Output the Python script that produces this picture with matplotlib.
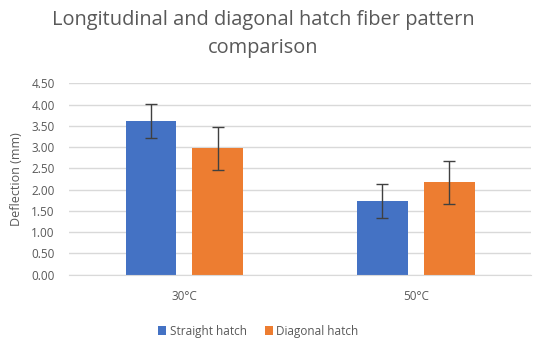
import matplotlib
matplotlib.use("Agg")
import matplotlib.pyplot as plt
import numpy as np

categories = ["30°C", "50°C"]
series_names = ["Straight hatch", "Diagonal hatch"]
straight = [3.61, 1.74]
straight_err = [0.40, 0.40]
diagonal = [2.97, 2.17]
diagonal_err = [0.50, 0.50]
yticks = [0.0, 0.5, 1.0, 1.5, 2.0, 2.5, 3.0, 3.5, 4.0, 4.5]

plt.rcParams['font.family'] = ['Open Sans', 'DejaVu Sans']
grey = '#595959'

fig = plt.figure(figsize=(5.5, 3.41), dpi=100)
ax = fig.add_axes([0.125, 0.1944, 0.841, 0.5613])

x = np.arange(len(categories))
w = 0.22
gap = 0.069
off = (w + gap) / 2
ax.bar(x - off, straight, w, color='#4472C4', label=series_names[0], zorder=2)
ax.bar(x + off, diagonal, w, color='#ED7D31', label=series_names[1], zorder=2)
ax.errorbar(x - off, straight, yerr=straight_err, fmt='none', ecolor='#404040',
            elinewidth=1.0, capsize=4, capthick=1.0, zorder=3)
ax.errorbar(x + off, diagonal, yerr=diagonal_err, fmt='none', ecolor='#404040',
            elinewidth=1.0, capsize=4, capthick=1.0, zorder=3)

ax.set_xlim(-0.5, 1.5)
ax.set_ylim(0, 4.5)
ax.set_yticks(yticks)
ax.set_yticklabels([f"{t:.2f}" for t in yticks])
ax.set_xticks(x)
ax.set_xticklabels(categories)
ax.tick_params(axis='both', length=0, labelsize=8.5, labelcolor=grey)
ax.tick_params(axis='y', pad=10)
ax.tick_params(axis='x', pad=11)
ax.grid(axis='y', color='#d9d9d9', linewidth=1.0, zorder=0)
for s in ['top', 'right', 'left']:
    ax.spines[s].set_visible(False)
ax.spines['bottom'].set_color('#d9d9d9')
ax.set_ylabel("Deflection (mm)", fontsize=9, color=grey, labelpad=6)

fig.text(263 / 550, 1 - 20 / 341, "Longitudinal and diagonal hatch fiber pattern",
         ha='center', va='center', fontsize=14.4, color=grey)
fig.text(263 / 550, 1 - 48 / 341, "comparison",
         ha='center', va='center', fontsize=14.4, color=grey)

ax.legend(loc='upper center', bbox_to_anchor=(0.41, -0.205), ncol=2, frameon=False,
          fontsize=8.5, labelcolor=grey, handlelength=0.7, handleheight=0.7,
          handletextpad=0.3, columnspacing=1.5)

fig.savefig("out.png", dpi=100)
